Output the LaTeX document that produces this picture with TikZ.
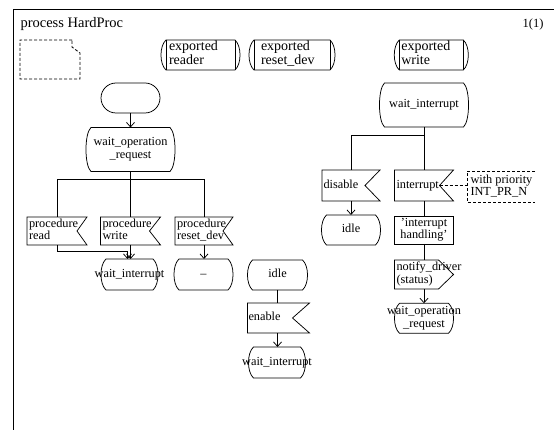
\documentclass[tikz,border=0pt]{standalone}
\usepackage{fontspec}
\setmainfont{Liberation Serif}
\usetikzlibrary{calc,arrows.meta}

% fonts
\newcommand\flowfont{\fontsize{12.3}{12.6}\selectfont}
\newcommand\headfont{\fontsize{14.5}{15}\selectfont}
\newcommand\reffont{\fontsize{14}{14.2}\selectfont}
\newcommand\pagefont{\fontsize{12.5}{13}\selectfont}

% centred lines of zero width, and left aligned lines in a box of given width
\newcommand\Ctext[1]{\makebox[0pt]{\begin{tabular}{@{}c@{}}#1\end{tabular}}}
\newcommand\Ltext[3]{\makebox[#1][l]{\hspace*{#2}\begin{tabular}{@{}l@{}}#3\end{tabular}}}

\tikzset{
  sdl/.style={inner sep=0pt, outer sep=0pt, font=\flowfont},
  box/.style 2 args={sdl, minimum width=#1, minimum height=#2},
  outline/.style={draw=black, line width=0.75pt, line join=miter},
  flow/.style={draw=black, line width=0.75pt},
  arrow/.style={flow, -{Straight Barb[length=4.5pt,width=8pt]}},
  dashline/.style={dash pattern=on 3pt off 2pt},
  startbox/.style={outline, rounded corners=15pt},
}

% SDL symbol outlines, drawn round named nodes
\newcommand\StateShape[1]{%
  \draw[outline] ($(#1.north west)+(5,0)$) -- ($(#1.north east)+(-5,0)$)
    .. controls ($(#1.north east)+(1.7,6)$) and ($(#1.south east)+(1.7,-6)$) .. ($(#1.south east)+(-5,0)$)
    -- ($(#1.south west)+(5,0)$)
    .. controls ($(#1.south west)+(-1.7,-6)$) and ($(#1.north west)+(-1.7,6)$) .. cycle;}
\newcommand\ProcRefShape[1]{%
  \StateShape{#1}
  \draw[outline] ($(#1.north west)+(5,0)$) -- ($(#1.south west)+(5,0)$)
                 ($(#1.north east)+(-5,0)$) -- ($(#1.south east)+(-5,0)$);}
\newcommand\InputShape[2]{%
  \draw[outline] (#1.north west) -- (#1.north east) -- ($(#1.east)+(-#2,0)$)
    -- (#1.south east) -- (#1.south west) -- cycle;}
\newcommand\OutputShape[2]{%
  \draw[outline] (#1.north west) -- ($(#1.north east)+(-#2,0)$) -- (#1.east)
    -- ($(#1.south east)+(-#2,0)$) -- (#1.south west) -- cycle;}

\begin{document}
\begin{tikzpicture}[x=1pt,y=-1pt]
\useasboundingbox (0,0) rectangle (554,430);

% page frame
\draw[line width=1pt] (554,10) -- (13,10) -- (13,430);
\node[sdl, font=\headfont, anchor=west] (title) at (20.5,24) {process HardProc};
\node[sdl, font=\pagefont, anchor=east] (page) at (543.5,24) {1(1)};

% text symbol
\node[box={60pt}{39pt}] (txt) at (50,59.5) {};
\draw[outline, line width=0.85pt, dashline] ($(txt.north east)+(-8,0)$) -- (txt.north west) -- (txt.south west)
  -- (txt.south east) -- ($(txt.north east)+(0,13)$) -- ($(txt.north east)+(-8,7)$) -- cycle;

% exported procedure references
\node[box={79pt}{30pt}, font=\reffont] (pref1) at (200.5,55) {\Ltext{79pt}{8pt}{exported\\reader}};
\ProcRefShape{pref1}
\node[box={86pt}{30pt}, font=\reffont] (pref2) at (292,55) {\Ltext{86pt}{12pt}{exported\\reset\_dev}};
\ProcRefShape{pref2}
\node[box={74pt}{30pt}, font=\reffont] (pref3) at (431.3,55) {\Ltext{74pt}{7pt}{exported\\write}};
\ProcRefShape{pref3}

% ---- left column: start and operation requests
\node[box={59pt}{30pt}, startbox] (start) at (130.5,98) {};
\node[box={89pt}{44pt}] (wor1) at (130.5,149.5) {\Ctext{wait\_operation\\\_request}};
\StateShape{wor1}
\draw[arrow] (start) -- (wor1);

\node[box={60pt}{28pt}] (read) at (57,231) {\Ltext{60pt}{2pt}{procedure\\read}};
\InputShape{read}{10}
\node[box={60pt}{28pt}] (write) at (130.5,231) {\Ltext{60pt}{2pt}{procedure\\write}};
\InputShape{write}{11}
\node[box={58pt}{28pt}] (reset) at (204,231) {\Ltext{58pt}{2pt}{procedure\\reset\_dev}};
\InputShape{reset}{10}

\coordinate (br1) at (130.5,179);
\draw[flow] (wor1) -- (write);
\draw[flow] (read.north) -- (read.north |- br1) -- (reset.north |- br1) -- (reset.north);

\node[box={57pt}{31pt}] (wi1) at (129.5,274.5) {\Ctext{wait\_interrupt}};
\StateShape{wi1}
\node[box={59pt}{31pt}] (dash) at (203.5,274.5) {\Ctext{–}};
\StateShape{dash}

\draw[arrow] (read.south) -- ++(0,6) -| ([xshift=-2pt]wi1.north);
\draw[arrow] (write.south) -- (write.south |- wi1.north);
\draw[arrow] (reset.south) -- (reset.south |- dash.north);

% ---- middle column: idle
\node[box={60pt}{30pt}] (idle1) at (277.5,275) {\Ctext{idle}};
\StateShape{idle1}
\node[box={62pt}{30pt}] (enable) at (278.5,318) {\Ltext{62pt}{1pt}{enable}};
\InputShape{enable}{17}
\node[box={57pt}{31pt}] (wi2) at (277,362.5) {\Ctext{wait\_interrupt}};
\StateShape{wi2}
\draw[flow] (idle1.south) -- (idle1.south |- enable.north);
\draw[arrow] (idle1.south |- enable.south) -- (idle1.south |- wi2.north);

% ---- right column: waiting for the interrupt
\node[box={89pt}{44pt}] (wi3) at (424,105) {\Ctext{wait\_interrupt}};
\StateShape{wi3}
\node[box={58pt}{31pt}] (disable) at (351,185.5) {\Ltext{58pt}{1.5pt}{disable}};
\InputShape{disable}{15}
\node[box={59pt}{31pt}] (interrupt) at (424,185.5) {\Ltext{59pt}{2pt}{interrupt}};
\InputShape{interrupt}{14}
\coordinate (br2) at (424,135);
\draw[flow] (wi3) -- (interrupt);
\draw[flow] (wi3.south |- br2) -| (disable.north);

\node[box={68pt}{31pt}] (prio) at (501,187) {\Ltext{68pt}{3.5pt}{with priority\\INT\_PR\_N}};
\draw[outline, dashline] (prio.north east) -- (prio.north west) -- (prio.south west) -- (prio.south east);
\coordinate (notch) at ($(interrupt.east)+(-14,0)$);
\draw[flow, dashline] (notch) -- (notch -| prio.west);

\node[box={59pt}{30pt}] (idle2) at (351,230) {\Ctext{idle}};
\StateShape{idle2}
\draw[arrow] (disable) -- (idle2);

\node[box={59pt}{28pt}, outline] (task) at (424,230) {\Ctext{’interrupt\\handling’}};
\draw[flow] (interrupt) -- (task);

\node[box={59pt}{29pt}] (notify) at (424,274.5) {\Ltext{59pt}{2pt}{notify\_driver\\(status)}};
\OutputShape{notify}{15}
\draw[flow] (task) -- (notify);

\node[box={59pt}{30pt}] (wor2) at (424,318.3) {\Ctext{wait\_operation\\\_request}};
\StateShape{wor2}
\draw[arrow] (notify) -- (wor2);
\end{tikzpicture}
\end{document}
